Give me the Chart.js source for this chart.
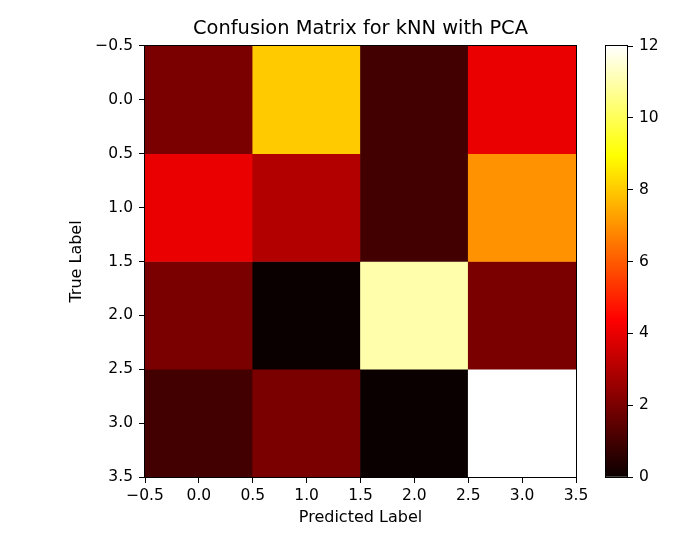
<!DOCTYPE html>
<html>
<head>
<meta charset="utf-8">
<script src="https://cdn.jsdelivr.net/npm/chart.js@4"></script>
<style>
  html, body { margin: 0; padding: 0; background: #fff; }
  #wrap { position: relative; width: 678px; height: 535px; }
  #wrap canvas { position: absolute; left: 0; top: 0; }
</style>
</head>
<body>
<div id="wrap">
  <canvas id="matrixChart" width="678" height="535"></canvas>
  <canvas id="colorbarChart" width="678" height="535"></canvas>
</div>
<script>
// confusion matrix values
const trueLabels = [0, 1, 2, 3];
const predictedLabels = [0, 1, 2, 3];
const row0 = [2, 8, 1, 4];
const row1 = [4, 3, 1, 7];
const row2 = [2, 0, 11, 2];
const row3 = [1, 2, 0, 12];
const counts = [row0, row1, row2, row3];

const vMin = 0;
const vMax = 12;
const colorbarTicks = [0, 2, 4, 6, 8, 10, 12];

const FONT = 'DejaVu Sans';
const TICK_SIZE = 15.5;
const LABEL_SIZE = 16;

// matplotlib "hot" colormap
const hot = (v) => {
  const t = Math.min(1, Math.max(0, (v - vMin) / (vMax - vMin)));
  const r = t < 0.365079 ? 0.0416 + (1 - 0.0416) * t / 0.365079 : 1;
  const g = t < 0.365079 ? 0 : (t < 0.746032 ? (t - 0.365079) / (0.746032 - 0.365079) : 1);
  const b = t < 0.746032 ? 0 : (t - 0.746032) / (1 - 0.746032);
  return `rgb(${Math.round(r * 255)},${Math.round(g * 255)},${Math.round(b * 255)})`;
};

const fmt = (v) => v.toFixed(1).replace('-', '\u2212');

// black frame round the plot area
const framePlugin = {
  id: 'frame',
  afterDraw(chart) {
    const { ctx, chartArea: a } = chart;
    ctx.save();
    ctx.strokeStyle = '#000';
    ctx.lineWidth = 1;
    ctx.strokeRect(Math.round(a.left) - 0.5, Math.round(a.top) - 0.5,
      Math.round(a.right - a.left) + 1, Math.round(a.bottom - a.top) + 1);
    ctx.restore();
  }
};

const axisGrid = { drawOnChartArea: false, drawTicks: true, tickLength: 6, color: '#000', offset: false };

new Chart(document.getElementById('matrixChart'), {
  type: 'bar',
  data: {
    // one floating-bar dataset per true label, one bar per predicted label
    datasets: trueLabels.map((t, r) => ({
      label: 'True ' + t,
      data: predictedLabels.map((p) => ({ x: p, y: [t - 0.5, t + 0.5] })),
      backgroundColor: counts[r].map(hot),
      borderWidth: 0,
      barThickness: 'flex',
      barPercentage: 1,
      categoryPercentage: 1
    }))
  },
  options: {
    responsive: false,
    animation: false,
    layout: { padding: { left: 43, right: 0, top: 0, bottom: 0 } },
    plugins: {
      legend: { display: false },
      tooltip: { enabled: false },
      title: {
        display: true,
        text: 'Confusion Matrix for kNN with PCA',
        color: '#000',
        font: { family: FONT, size: 19.4, weight: 'normal' },
        padding: { top: 17.4, bottom: 5.3 }
      }
    },
    scales: {
      x: {
        type: 'linear',
        min: -0.5,
        max: 3.5,
        offset: false,
        stacked: true,
        grid: axisGrid,
        border: { display: false },
        ticks: {
          stepSize: 0.5, autoSkip: false, maxRotation: 0, padding: 4,
          color: '#000', font: { family: FONT, size: TICK_SIZE }, callback: fmt
        },
        title: {
          display: true, text: 'Predicted Label', color: '#000',
          font: { family: FONT, size: LABEL_SIZE }, padding: { top: 0, bottom: 8 }
        },
        afterFit(scale) { scale.height = 58; }
      },
      y: {
        type: 'linear',
        min: -0.5,
        max: 3.5,
        reverse: true,
        grid: axisGrid,
        border: { display: false },
        ticks: {
          stepSize: 0.5, autoSkip: false, padding: 6,
          color: '#000', font: { family: FONT, size: TICK_SIZE }, callback: fmt
        },
        title: {
          display: true, text: 'True Label', color: '#000',
          font: { family: FONT, size: LABEL_SIZE }, padding: { top: 24, bottom: 0 }
        },
        afterFit(scale) { scale.width = 102; }
      },
      // empty space on the right, keeps the title centred over the plot
      gap: {
        type: 'linear',
        position: 'right',
        grid: { display: false },
        border: { display: false },
        ticks: { display: false },
        afterFit(scale) { scale.width = 102; }
      }
    }
  },
  plugins: [framePlugin]
});

// colorbar: one floating bar from vMin to vMax filled with the colormap
new Chart(document.getElementById('colorbarChart'), {
  type: 'bar',
  data: {
    labels: [''],
    datasets: [{
      data: [[vMin, vMax]],
      borderWidth: 0,
      barPercentage: 1,
      categoryPercentage: 1,
      backgroundColor(ctx) {
        const chart = ctx.chart;
        if (!chart.chartArea) return '#000';
        const ys = chart.scales.y;
        const g = chart.ctx.createLinearGradient(0, ys.getPixelForValue(vMin), 0, ys.getPixelForValue(vMax));
        g.addColorStop(0, hot(vMin));
        g.addColorStop(0.365079, 'rgb(255,0,0)');
        g.addColorStop(0.746032, 'rgb(255,255,0)');
        g.addColorStop(1, hot(vMax));
        return g;
      }
    }]
  },
  options: {
    responsive: false,
    animation: false,
    layout: { padding: { left: 606, right: 0, top: 46, bottom: 58 } },
    plugins: { legend: { display: false }, tooltip: { enabled: false } },
    scales: {
      x: { display: false },
      y: {
        position: 'right',
        min: vMin,
        max: vMax,
        grid: axisGrid,
        border: { display: false },
        afterBuildTicks(scale) { scale.ticks = colorbarTicks.map((v) => ({ value: v })); },
        ticks: { padding: 6, color: '#000', font: { family: FONT, size: TICK_SIZE } },
        afterFit(scale) { scale.width = 51; }
      }
    }
  },
  plugins: [framePlugin]
});
</script>
</body>
</html>
